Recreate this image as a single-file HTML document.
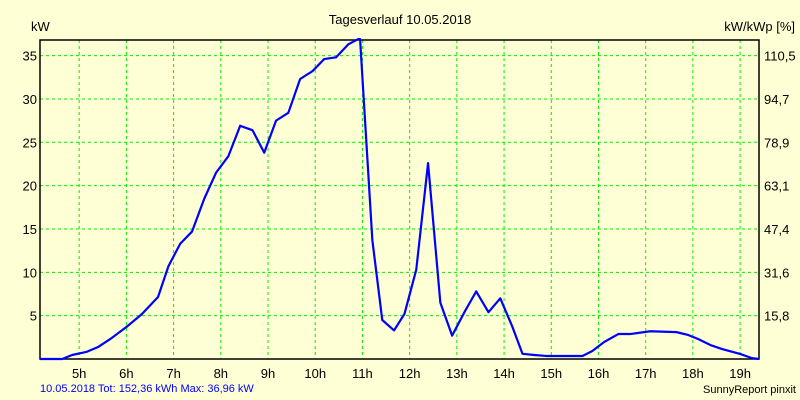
<!DOCTYPE html>
<html><head><meta charset="utf-8"><style>
html,body{margin:0;padding:0;background:#ffffd5;}
svg{display:block;font-family:"Liberation Sans",sans-serif;}
</style></head><body>
<svg id="chart" width="800" height="400" xmlns="http://www.w3.org/2000/svg">
<rect width="800" height="400" fill="#ffffd5"/>
<text x="400" y="24" font-size="13" text-anchor="middle">Tagesverlauf 10.05.2018</text>
<text x="31" y="31" font-size="13">kW</text>
<text x="795" y="31" font-size="13" text-anchor="end">kW/kWp [%]</text>
<text x="40" y="392" font-size="11" fill="#0000ff">10.05.2018 Tot: 152,36 kWh Max: 36,96 kW</text>
<text x="796" y="393" font-size="11" text-anchor="end">SunnyReport pinxit</text>
<g id="grid"></g><g id="axes"></g><g id="series"></g>
</svg>
<script>
const hourTicks=[5,6,7,8,9,10,11,12,13,14,15,16,17,18,19];
const kwTicks=[5,10,15,20,25,30,35];
const pctLabels=["15,8","31,6","47,4","63,1","78,9","94,7","110,5"];
const times=[4.17,4.64,4.85,5.15,5.40,5.66,6.00,6.33,6.67,6.89,7.14,7.39,7.65,7.90,8.16,8.41,8.67,8.92,9.17,9.43,9.68,9.94,10.19,10.44,10.70,10.91,10.95,11.08,11.21,11.42,11.67,11.89,12.14,12.39,12.65,12.90,13.16,13.41,13.67,13.92,14.17,14.39,14.64,14.89,15.66,15.87,16.12,16.42,16.67,17.10,17.65,17.90,18.11,18.37,18.62,19.00,19.25,19.40];
const power=[0,0,0.46,0.81,1.38,2.31,3.69,5.19,7.15,10.7,13.3,14.7,18.5,21.5,23.4,26.9,26.4,23.8,27.5,28.4,32.3,33.2,34.6,34.8,36.3,36.9,36.9,25.3,13.7,4.5,3.3,5.2,10.3,22.6,6.5,2.7,5.4,7.8,5.4,7.0,3.8,0.6,0.46,0.35,0.35,0.92,1.96,2.88,2.88,3.2,3.1,2.77,2.31,1.61,1.15,0.58,0.1,0];
const L=40,R=759,T=40,B=359,hMin=4.17,hMax=19.4,kMax=36.8;
const xs=h=>L+(h-hMin)/(hMax-hMin)*(R-L);
const ys=v=>B-v/kMax*(B-T);
const NS="http://www.w3.org/2000/svg";
function mk(tag,attrs,parent,txt){const e=document.createElementNS(NS,tag);for(const k in attrs)e.setAttribute(k,attrs[k]);if(txt!==undefined)e.textContent=txt;document.getElementById(parent).appendChild(e);return e;}
hourTicks.forEach(h=>{
 const g=mk('line',{x1:xs(h),x2:xs(h),y1:T,y2:B,stroke:'#00ee00','stroke-dasharray':'3,3'},'grid');
 
 
 const t=mk('text',{x:xs(h),y:378,'font-size':13,'text-anchor':'middle'},'axes',h+'h');
 
 
});
kwTicks.forEach((v,i)=>{
 const g=mk('line',{x1:L,x2:R,y1:ys(v),y2:ys(v),stroke:'#00ee00','stroke-dasharray':'3,3'},'grid');
 
 
 const t=mk('text',{x:37,y:ys(v)+5,'font-size':13,'text-anchor':'end'},'axes',String(v));
 
 
 const t2=mk('text',{x:764,y:ys(v)+5,'font-size':13},'axes',pctLabels[i]);
 
 
});
const fr=mk('path',{d:`M${L},${T}H${R}V${B}H${L}Z`,fill:'none',stroke:'#000','stroke-width':1.5},'axes');


const line=mk('polyline',{points:times.map((t,i)=>xs(t)+','+ys(power[i])).join(' '),fill:'none',stroke:'#0000ff','stroke-width':2.2,'stroke-linejoin':'round'},'series');


</script>
</body></html>
